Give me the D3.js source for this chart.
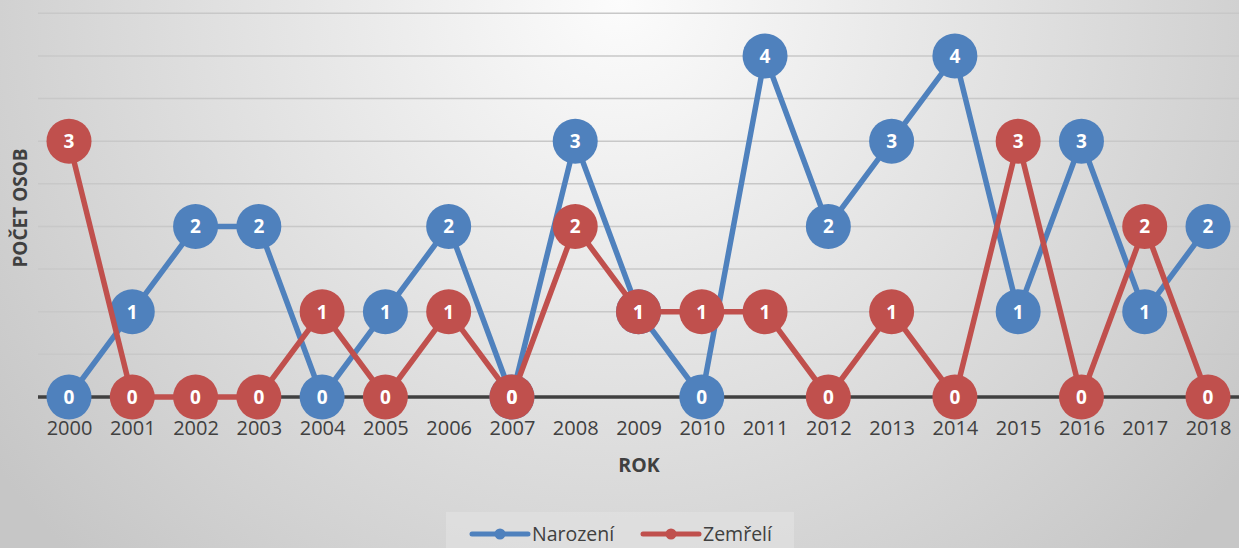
<!DOCTYPE html>
<html><head><meta charset="utf-8">
<script src="https://cdn.jsdelivr.net/npm/d3@7"></script>
<style>html,body{margin:0;padding:0;overflow:hidden;} svg{display:block;font-family:"Open Sans",sans-serif;}</style>
</head><body>
<svg id="c" width="1239" height="548"></svg>
<script>
const years = ["2000","2001","2002","2003","2004","2005","2006","2007","2008","2009","2010","2011","2012","2013","2014","2015","2016","2017","2018"];
const narozeni = [0,1,2,2,0,1,2,0,3,1,0,4,2,3,4,1,3,1,2];
const zemreli = [3,0,0,0,1,0,1,0,2,1,1,1,0,1,0,3,0,2,0];
const seriesNames = ["Narození","Zemřelí"];
const gridTicks = [0.5,1,1.5,2,2.5,3,3.5,4,4.5];
const xTitle = "ROK", yTitle = "POČET OSOB";

const W=1239,H=548;
const svg=d3.select("#c");
const defs=svg.append("defs");
const rg=defs.append("radialGradient").attr("id","bg").attr("gradientUnits","userSpaceOnUse")
  .attr("cx",620).attr("cy",0).attr("r",780);
rg.append("stop").attr("offset","0%").attr("stop-color","#fcfcfc");
rg.append("stop").attr("offset","100%").attr("stop-color","#c6c6c6");
svg.append("rect").attr("width",W).attr("height",H).attr("fill","url(#bg)");

const x=d3.scalePoint().domain(years).range([69,1208]);
const y=d3.scaleLinear().domain([0,4.5]).range([397,13.3]);

// gridlines
svg.append("g").selectAll("line").data(gridTicks).join("line")
  .attr("x1",38).attr("x2",W).attr("y1",d=>y(d)).attr("y2",d=>y(d))
  .attr("stroke","#c8c8c8").attr("stroke-width",1.5);

// x axis
const xa=svg.append("g").attr("transform",`translate(0,${y(0)})`)
  .call(d3.axisBottom(x).tickSize(0).tickPadding(0));
xa.select(".domain").remove();
xa.selectAll("text").attr("y",38).attr("dy",0).attr("font-size",20).attr("fill","#404040").attr("font-family","Open Sans, sans-serif");
svg.append("line").attr("x1",38).attr("x2",W).attr("y1",y(0)).attr("y2",y(0))
  .attr("stroke","#404040").attr("stroke-width",3.5);

svg.append("text").attr("x",639).attr("y",472).attr("text-anchor","middle")
  .attr("font-size",19.5).attr("font-weight","bold").attr("fill","#404040").text(xTitle);
svg.append("text").attr("transform","translate(27,208) rotate(-90)").attr("text-anchor","middle")
  .attr("font-size",19).attr("font-weight","bold").attr("fill","#404040").text(yTitle);

const colors=["#4f81bd","#c0504d"];
const data=[narozeni,zemreli];
const line=d3.line().x((d,i)=>x(years[i])).y(d=>y(d));
data.forEach((s,k)=>{
  svg.append("path").datum(s).attr("d",line).attr("fill","none")
    .attr("stroke",colors[k]).attr("stroke-width",5.5).attr("stroke-linejoin","round");
  svg.append("g").selectAll("circle").data(s).join("circle")
    .attr("cx",(d,i)=>x(years[i])).attr("cy",d=>y(d)).attr("r",22.5).attr("fill",colors[k]);
});
data.forEach((s,k)=>{
  svg.append("g").selectAll("text").data(s).join("text")
    .attr("x",(d,i)=>x(years[i])).attr("y",d=>y(d)).attr("dy","0.36em")
    .attr("text-anchor","middle").attr("font-size",19).attr("font-weight","bold")
    .attr("fill","#fff").text(d=>d);
});

// legend
svg.append("rect").attr("x",446).attr("y",512).attr("width",348).attr("height",40).attr("fill","#e2e2e2").attr("opacity",0.6);
const lx=[472,643];
seriesNames.forEach((n,k)=>{
  const g=svg.append("g");
  g.append("line").attr("x1",lx[k]).attr("x2",lx[k]+56).attr("y1",534).attr("y2",534)
    .attr("stroke",colors[k]).attr("stroke-width",5).attr("stroke-linecap","round");
  g.append("circle").attr("cx",lx[k]+28).attr("cy",534).attr("r",5.5).attr("fill",colors[k]);
  g.append("text").attr("x",lx[k]+60).attr("y",534).attr("dy","0.36em")
    .attr("font-size",19.5).attr("fill","#404040").text(n);
});
</script>
</body></html>
